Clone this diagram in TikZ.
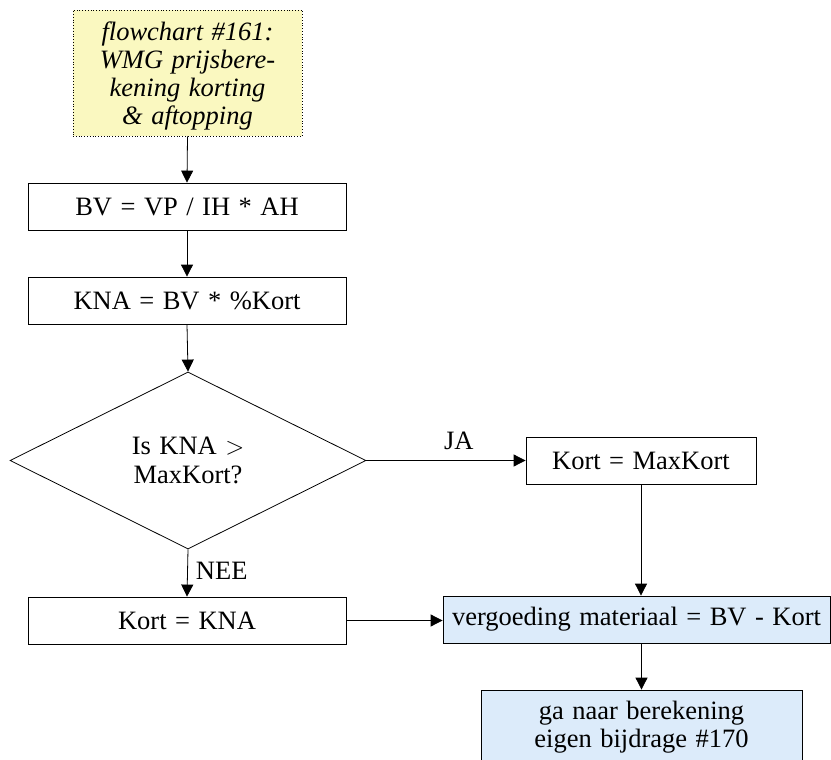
\documentclass[tikz,border=0pt]{standalone}
\usepackage{fontspec}
\setmainfont{Liberation Serif}
\usetikzlibrary{shapes.geometric,arrows.meta}
\definecolor{titlefill}{RGB}{250,248,192}
\definecolor{bluefill}{RGB}{220,235,250}
\newcommand{\widewordsp}{\spaceskip=0.32em\relax}
\tikzset{
  every node/.style={font=\fontsize{26.5}{28.5}\selectfont, execute at begin node=\widewordsp},
  procbox/.style={draw=black, line width=0.8pt, fill=white, inner sep=0pt, align=center},
  bluebox/.style={procbox, fill=bluefill},
  titlebox/.style={draw=black, dotted, line width=0.8pt, fill=titlefill, inner sep=0pt, align=center, font=\fontsize{26.5}{28}\selectfont\itshape},
  decide/.style={draw=black, line width=0.8pt, shape=diamond, shape aspect=2, inner sep=0pt, align=center},
  conn/.style={line width=0.8pt, -{Triangle[length=12pt,width=12pt]}},
  lbl/.style={inner sep=0pt}
}
\begin{document}
\begin{tikzpicture}[x=1pt,y=-1pt]
\useasboundingbox (0,0) rectangle (831,760);
\clip (0,0) rectangle (831,760);
\node[titlebox, minimum width=229pt, minimum height=126pt, text depth=0pt] (title) at (187.5,73) {flowchart \#161:\\WMG prijsbere-\\kening korting\\\& aftopping};
\node[procbox, minimum width=318pt, minimum height=47pt] (bv) at (187,206.5) {BV = VP / IH * AH};
\node[procbox, minimum width=318pt, minimum height=47pt] (kna) at (187,300.5) {KNA = BV * \%Kort};
\node[decide, minimum width=356pt, minimum height=177pt] (dia) at (188,460.5) {Is KNA $>$\\MaxKort?};
\node[procbox, minimum width=230pt, minimum height=47pt] (max) at (641,460.5) {Kort = MaxKort};
\node[procbox, minimum width=318pt, minimum height=47pt] (knab) at (187,620.5) {Kort = KNA};
\node[bluebox, minimum width=387pt, minimum height=47pt] (verg) at (636.5,619.5) {vergoeding materiaal = BV - Kort};
\node[bluebox, minimum width=321pt, minimum height=74pt] (ga) at (641.5,727) {ga naar berekening\\eigen bijdrage \#170};
\draw[conn] (title.south) -- (bv.north);
\draw[conn] (bv.south) -- (kna.north);
\draw[conn] (kna.south) -- (dia.north);
\draw[conn] (dia.east) -- (max.west) node[lbl, pos=0.58, above=10pt] (ja) {JA};
\draw[conn] (dia.south) -- (knab.north) node[lbl, pos=0.45, right=8pt] (nee) {NEE};
\draw[conn] (max.south) -- (max.south |- verg.north);
\draw[conn] (knab.east) -- (verg.west |- knab.east);
\draw[conn] (ga.north |- verg.south) -- (ga.north);
\end{tikzpicture}
\end{document}
